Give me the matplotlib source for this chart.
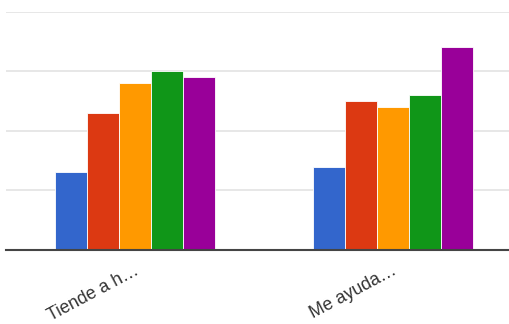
import numpy as np
import matplotlib.pyplot as plt
import matplotlib.transforms as mtransforms

# Data
categories = ['Tiende a h…', 'Me ayuda…']
serie_1 = [13, 14]
serie_2 = [23, 25]
serie_3 = [28, 24]
serie_4 = [30, 26]
serie_5 = [29, 34]
colors = ['#3366cc', '#dc3912', '#ff9900', '#109618', '#990099']

series = [serie_1, serie_2, serie_3, serie_4, serie_5]

fig = plt.figure(figsize=(5.09, 3.24), dpi=100)
ax = fig.add_axes([0.0118, 0.2284, 0.9882, 0.736])

x = np.arange(len(categories))
width = 0.1246
for i, (vals, c) in enumerate(zip(series, colors)):
    ax.bar(x + (i - 2) * width, vals, width, color=c, edgecolor='white', linewidth=0.6, zorder=3)

ax.set_ylim(0, 40)
ax.set_xlim(-0.5, 1.45)
ax.set_yticks([10, 20, 30, 40])
ax.yaxis.grid(True, color='#e3e3e3', linewidth=1.2, zorder=0)
ax.tick_params(left=False, labelleft=False, bottom=False)
for s in ['top', 'right', 'left']:
    ax.spines[s].set_visible(False)
ax.spines['bottom'].set_color('#444444')
ax.spines['bottom'].set_linewidth(1.5)
ax.spines['bottom'].set_zorder(4)

ax.set_xticks(x)
ax.set_xticklabels(categories, rotation=28, ha='right', va='baseline',
                   rotation_mode='anchor', fontsize=12.8, color='#333333',
                   family=['Liberation Sans', 'DejaVu Sans'])
offset = mtransforms.ScaledTranslation(3.2 / 72, -10 / 72, fig.dpi_scale_trans)
for lab in ax.get_xticklabels():
    lab.set_transform(lab.get_transform() + offset)

fig.savefig('out.png', dpi=100)
